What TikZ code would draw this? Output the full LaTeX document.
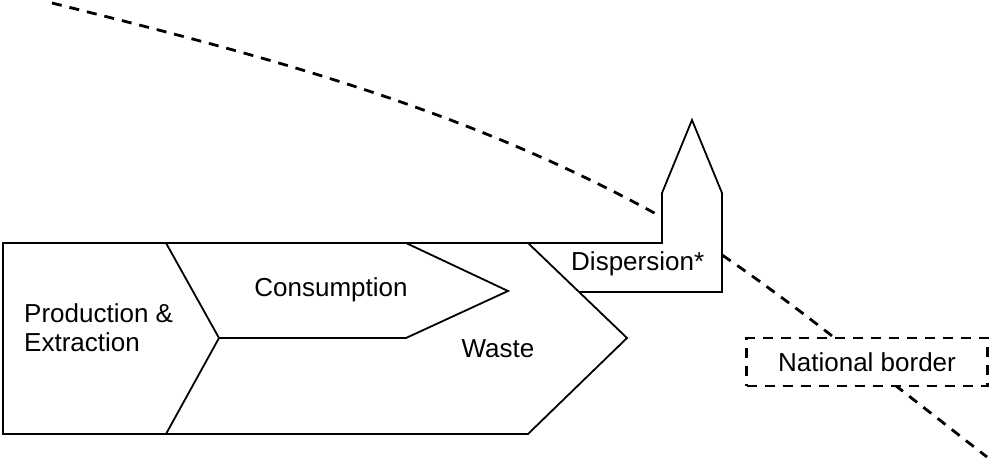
\documentclass[tikz,border=0pt]{standalone}
\usepackage{fontspec}
\setmainfont{Liberation Sans}

\begin{document}
\begin{tikzpicture}[
  x=1pt, y=-1pt,
  every node/.style={font=\fontsize{26}{29}\selectfont, inner sep=0pt},
  outline/.style={line width=1.8pt, line join=miter},
  borderline/.style={line width=2.8pt, dash pattern=on 10pt off 8pt}
]
\useasboundingbox (0,0) rectangle (990,462);

% National border, partly hidden behind the shapes.
\draw[borderline] (52,3) .. controls (252,53) and (458,105) .. (658,215)
  .. controls (700,238) and (760,280) .. (827,332) -- (987,457);

% Dispersion outlet with its spire.
\filldraw[outline, fill=white] (528,243) -- (662,243) -- (662,193) -- (692,120)
  -- (722,193) -- (722,292) -- (579,292);

% Material chain: production, consumption, waste.
\draw[outline] (528,243) -- (3,243) -- (3,434) -- (528,434) -- (627,338) -- cycle;
\draw[outline] (166,243) -- (219,338) -- (166,434);
\draw[outline] (219,338) -- (406,338) -- (508,291) -- (406,243);

\node[anchor=west, align=left] (prod) at (24,328) {Production \&\\Extraction};
\node[anchor=base] (cons) at (331,297) {Consumption};
\node[anchor=base] (waste) at (498,357) {Waste};
\node[anchor=base west] (disp) at (571,271) {Dispersion*};
\node[draw, borderline, fill=white, minimum width=241pt, minimum height=48pt]
  (border) at (867,362) {National border};
\end{tikzpicture}
\end{document}
